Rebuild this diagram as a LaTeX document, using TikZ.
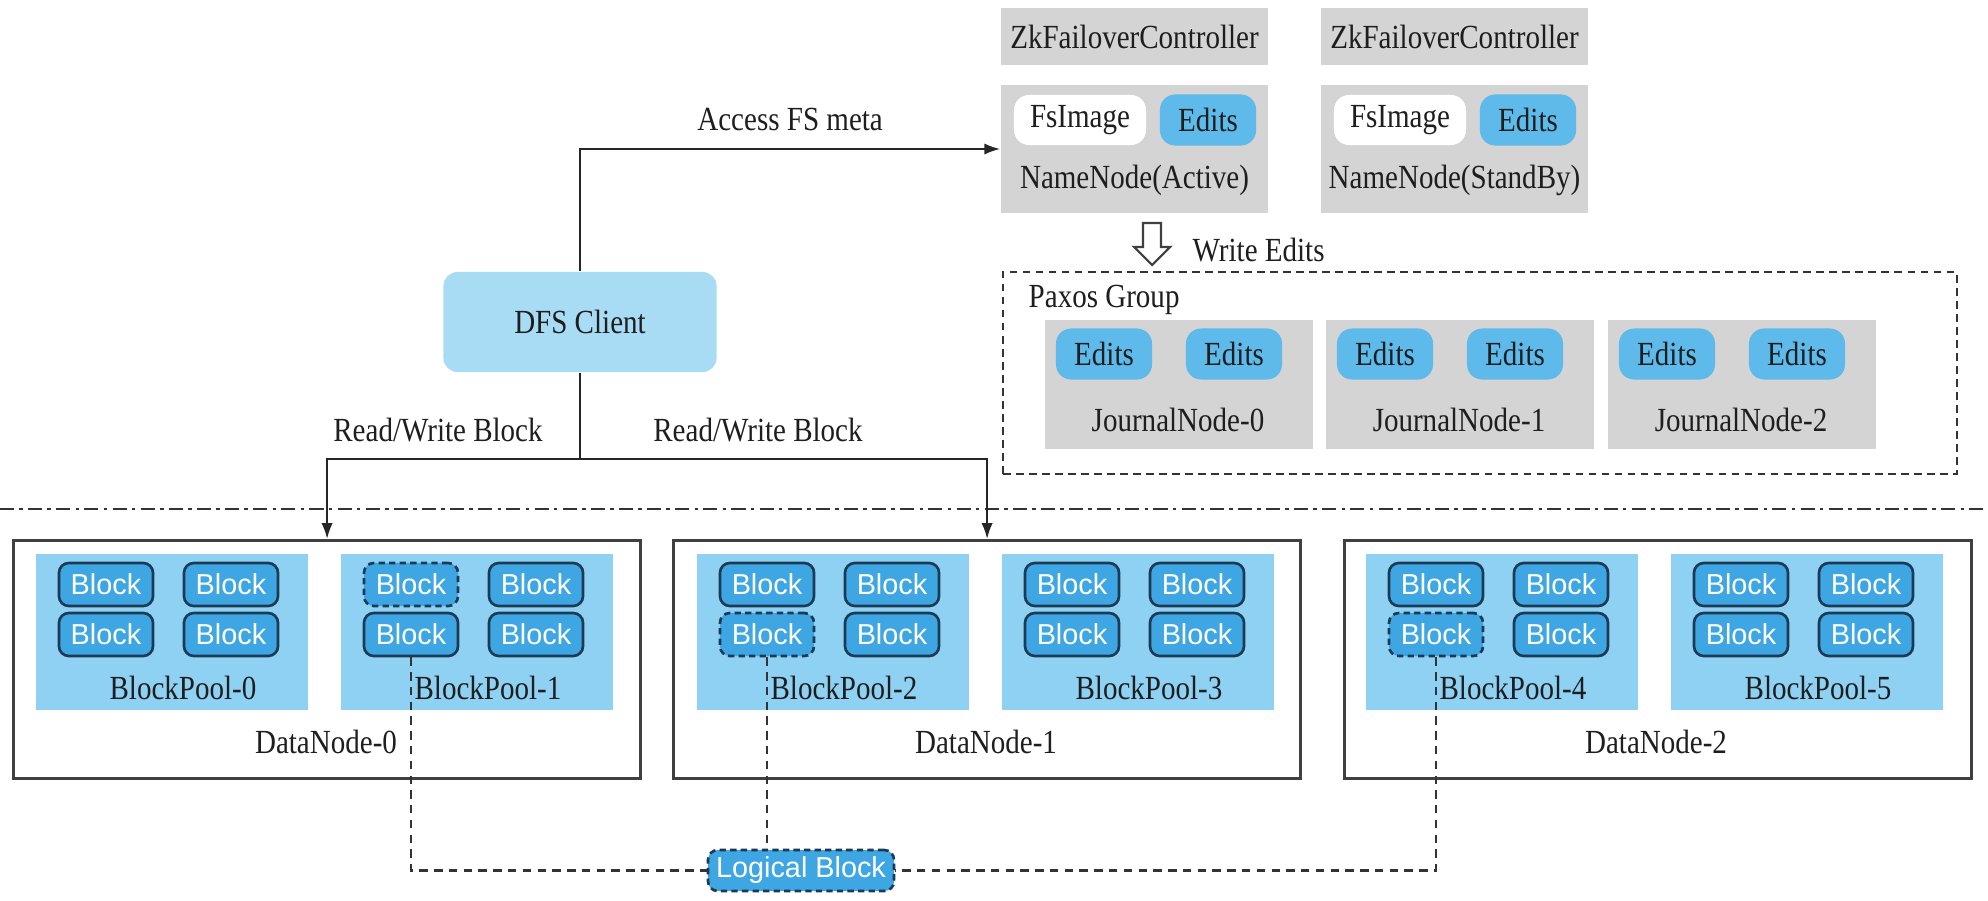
\documentclass[tikz,border=0pt]{standalone}
\usepackage{fontspec}
\setmainfont{Liberation Serif}[FakeStretch=0.86]
\newfontfamily\blkfont{Liberation Sans}
\usetikzlibrary{arrows.meta,calc}
\definecolor{gbox}{HTML}{D4D4D4}
\definecolor{poolc}{HTML}{8ED1F3}
\definecolor{clientc}{HTML}{A8DCF5}
\definecolor{blkfill}{HTML}{3EA6E2}
\definecolor{blkline}{HTML}{1D3A54}
\definecolor{editsc}{HTML}{5DBAEA}
\definecolor{ink}{HTML}{1E1E1E}
\begin{document}
\begin{tikzpicture}[x=0.01cm, y=-0.01cm,
  font=\fontsize{9.6}{11}\selectfont, text=ink,
  graybox/.style={fill=gbox, inner sep=0pt},
  txt/.style={inner sep=0pt},
  fsimg/.style={fill=white, rounded corners=4.3pt, inner sep=0pt, minimum width=1.32cm, minimum height=0.50cm},
  editpill/.style={fill=editsc, rounded corners=4.3pt, inner sep=0pt, minimum width=0.96cm, minimum height=0.51cm},
  poolbox/.style={fill=poolc, inner sep=0pt, minimum width=2.72cm, minimum height=1.56cm, anchor=north west},
  dnbox/.style={draw=black!75, line width=0.8pt, inner sep=0pt, minimum width=6.27cm, minimum height=2.38cm, anchor=north west},
  blk/.style={fill=blkfill, draw=blkline, line width=0.75pt, rounded corners=2.8pt, minimum width=0.94cm, minimum height=0.43cm, inner sep=0pt, text=white, font=\blkfont\fontsize{8.2}{10}\selectfont},
  blkdash/.style={dash pattern=on 1.8pt off 1.2pt},
  conn/.style={draw=black!85, line width=0.6pt, -{Latex[length=4.5pt,width=3.2pt]}},
  ldash/.style={draw=black!80, line width=0.6pt, dash pattern=on 2.4pt off 1.8pt},
  cur/.style={}]
\useasboundingbox (0,0) rectangle (1988,900);

% NameNodes and ZK controllers
\node[graybox, minimum width=2.67cm, minimum height=0.57cm] (zk1) at (1134.5,36.5) {ZkFailoverController};
\node[graybox, minimum width=2.67cm, minimum height=0.57cm] (zk2) at (1454.5,36.5) {ZkFailoverController};
\node[graybox, minimum width=2.67cm, minimum height=1.28cm] (nn1) at (1134.5,149) {};
\node[graybox, minimum width=2.67cm, minimum height=1.28cm] (nn2) at (1454.5,149) {};
\node[fsimg] (fs1) at (1080,120) {FsImage};
\node[editpill] (ed1) at (1208,120) {Edits};
\node[fsimg] (fs2) at (1400,120) {FsImage};
\node[editpill] (ed2) at (1528,120) {Edits};
\node[txt] (nn1l) at (1134.5,180) {NameNode(Active)};
\node[txt] (nn2l) at (1454.5,180) {NameNode(StandBy)};

% Write edits hollow arrow
\draw[draw=black!75, line width=0.6pt, fill=white, line join=miter]
  (1143,223) -- (1161,223) -- (1161,247) -- (1170,247) -- (1152,265) -- (1134,247) -- (1143,247) -- cycle;
\node[txt, anchor=west] (wel) at (1192,250) {Write Edits};

% Paxos group
\node[draw=black!80, line width=0.6pt, dash pattern=on 2.2pt off 1.5pt, inner sep=0pt, minimum width=9.53cm, minimum height=2.02cm, anchor=north west] (paxos) at (1002,271) {};
\node[txt, anchor=west] (paxl) at (1028,300) {Paxos Group};
\foreach \j/\xl in {0/1044,1/1325,2/1607} {
  \node[graybox, minimum width=2.68cm, minimum height=1.29cm, anchor=north west] (jn\j) at (\xl,319) {};
  \node[editpill] (jn\j a) at (\xl+60,354) {Edits};
  \node[editpill] (jn\j b) at (\xl+190,354) {Edits};
  \node[txt] (jn\j l) at (\xl+134,420) {JournalNode-\j};
}

% DFS client
\node[fill=clientc, rounded corners=4pt, inner sep=0pt, minimum width=2.73cm, minimum height=1.00cm] (dfs) at (580,322) {DFS Client};

% separator
\draw[black!80, line width=0.6pt, dash pattern=on 4pt off 1.5pt on 1pt off 1.5pt] (0,509) -- (1988,509);

% DataNodes
\node[dnbox] (dn0) at (12,539) {};
\node[dnbox] (dn1) at (672,539) {};
\node[dnbox] (dn2) at (1343,539) {};
\node[txt] (dn0l) at (326,742) {DataNode-0};
\node[txt] (dn1l) at (986,742) {DataNode-1};
\node[txt] (dn2l) at (1656,742) {DataNode-2};

% Block pools
\foreach \i/\xl/\dr/\dc in {0/35/0/0, 1/340/1/1, 2/696/2/1, 3/1001/0/0, 4/1365/2/1, 5/1670/0/0} {
  \node[poolbox] (bp\i) at (\xl,553) {};
  \node[txt] (bp\i l) at (\xl+148,688) {BlockPool-\i};
  \foreach \r/\yc in {1/584.5, 2/634.5} {
    \foreach \c/\dx in {1/71, 2/196} {
      \tikzset{cur/.style={}}
      \ifnum\r=\dr\relax\ifnum\c=\dc\relax\tikzset{cur/.style={blkdash}}\fi\fi
      \node[blk, cur] (b\i\r\c) at (\xl+\dx,\yc) {Block};
    }
  }
}

% Logical block
\node[blk, blkdash, minimum width=1.86cm, minimum height=0.41cm] (lb) at (801,870.5) {Logical Block};

% Connectors
\draw[conn] (dfs.north) |- node[pos=0.75, above=5pt, txt] {Access FS meta} (nn1.west);
\draw[conn] (dfs.south) -- ++(0,86) -| (dn0.north);
\draw[conn] (dfs.south) -- ++(0,86) -| (dn1.north);
\node[txt] (rw0) at (438,430) {Read/Write Block};
\node[txt] (rw1) at (758,430) {Read/Write Block};

\draw[ldash] (b121.south) |- (lb.west);
\draw[ldash] (b221.south) -- (b221.south |- lb.north);
\draw[ldash] (b421.south) |- (lb.east);
\end{tikzpicture}
\end{document}
